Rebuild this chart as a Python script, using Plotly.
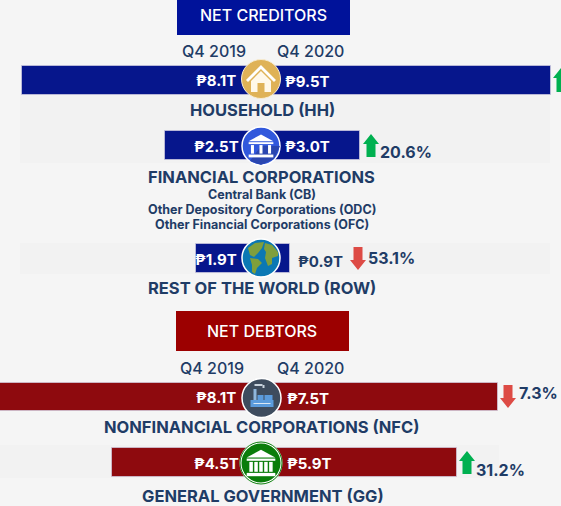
import plotly.graph_objects as go

W, H = 561, 506

# ---- data ----
sectors = ["HH", "FC", "ROW", "NFC", "GG"]
q4_2019_drawn = [7.7, 3.1, 2.1, 8.6, 4.8]     # drawn bar length, trillion pesos (left side)
q4_2020_drawn = [9.35, 3.2, 0.94, 7.65, 6.32]  # drawn bar length, trillion pesos (right side)
q4_2019_labels = ["₱8.1T", "₱2.5T", "₱1.9T", "₱8.1T", "₱4.5T"]
q4_2020_labels = ["₱9.5T", "₱3.0T", "₱0.9T", "₱7.5T", "₱5.9T"]
pct_labels = ["", "20.6%", "53.1%", "7.3%", "31.2%"]
titles = ["HOUSEHOLD (HH)", "FINANCIAL CORPORATIONS", "REST OF THE WORLD (ROW)",
          "NONFINANCIAL CORPORATIONS (NFC)", "GENERAL GOVERNMENT (GG)"]
fc_members = ["Central Bank (CB)", "Other Depository Corporations (ODC)", "Other Financial Corporations (OFC)"]
section_titles = ["NET CREDITORS", "NET DEBTORS"]
period_labels = ["Q4 2019", "Q4 2020"]

# ---- layout constants (pixels) ----
CX = 261
PX_PER_T = 31
FONT = "Inter"
INK = "#1f3c66"
NAVY = "#06168c"
MAROON = "#8e0a0e"
GREEN = "#00b050"
RED = "#dd4b45"
BG = "#f5f5f5"
BAND = "#f2f2f2"
LAND = "#7f9f3c"

row_y = [80.5, 145.5, 258.5, 397, 462.5]
bar_h = [29, 29, 29, 28, 29]
bar_colors = [NAVY, NAVY, NAVY, MAROON, MAROON]

fig = go.Figure()
for vals, sign in ((q4_2019_drawn, -1), (q4_2020_drawn, 1)):
    fig.add_trace(go.Bar(
        orientation="h", base=0,
        x=[sign * v for v in vals], y=row_y, width=bar_h,
        marker=dict(color=bar_colors, line=dict(color="rgba(210,205,225,0.7)", width=1)),
        hoverinfo="skip", showlegend=False))

shapes, ann = [], []


def px(x):
    return x / W


def py(y):
    return 1 - y / H


def rect(x0, y0, x1, y1, color, layer="above"):
    shapes.append(dict(type="rect", xref="paper", yref="paper", x0=px(x0), x1=px(x1), y0=py(y0), y1=py(y1),
                       fillcolor=color, line_width=0, layer=layer))


def circle(cx, cy, r, fill, line=None, lw=0):
    shapes.append(dict(type="circle", xref="paper", yref="paper", x0=px(cx - r), x1=px(cx + r),
                       y0=py(cy - r), y1=py(cy + r), fillcolor=fill,
                       line=dict(color=line or fill, width=lw), layer="above"))


def poly(points, fill):
    d = "M" + " L".join(f"{px(x):.5f},{py(y):.5f}" for x, y in points) + " Z"
    shapes.append(dict(type="path", xref="paper", yref="paper", path=d, fillcolor=fill, line_width=0, layer="above"))


def text(x, y, s, size, color=INK, weight=700):
    ann.append(dict(xref="paper", yref="paper", x=px(x), y=py(y), text=s, showarrow=False,
                    xanchor="center", yanchor="middle",
                    font=dict(family=FONT, size=size, color=color, weight=weight)))


def arrow(cx, top, bottom, up, color):
    hw, sw, head = 8, 4.5, 10
    if up:
        pts = [(cx, top), (cx + hw, top + head), (cx + sw, top + head), (cx + sw, bottom),
               (cx - sw, bottom), (cx - sw, top + head), (cx - hw, top + head)]
    else:
        pts = [(cx, bottom), (cx + hw, bottom - head), (cx + sw, bottom - head), (cx + sw, top),
               (cx - sw, top), (cx - sw, bottom - head), (cx - hw, bottom - head)]
    poly(pts, color)


# background bands
rect(20, 94, 550, 163, BAND, "below")
rect(20, 243, 550, 274, BAND, "below")
rect(0, 445, 499, 478, BAND, "below")

# section headers
rect(177, 0, 350, 35, "#00129a")
rect(176, 311, 349, 351, "#9c0000")
text(263, 15, section_titles[0], 16, "white", 500)
text(262, 331, section_titles[1], 16, "white", 500)

# period labels
text(214, 51, period_labels[0], 16, INK, 500)
text(310, 51, period_labels[1], 16, INK, 500)
text(212, 368, period_labels[0], 16, INK, 500)
text(310.5, 368, period_labels[1], 16, INK, 500)

# value labels
left_x = [216, 216, 216, 216, 216]
right_x = [307, 307, 320, 308, 309]
for i in range(5):
    text(left_x[i], row_y[i] + 0.5, q4_2019_labels[i], 15, "white")
    text(right_x[i], row_y[i] + (3 if i == 2 else 1), q4_2020_labels[i], 15, INK if i == 2 else "white")

# sector titles
title_pos = [(262, 110), (261, 177), (262, 288), (261, 427), (263, 496)]
for (x, y), t in zip(title_pos, titles):
    text(x, y, t, 16.5)
for y, t in zip((194.5, 209.5, 224.5), fc_members):
    text(262, y, t, 12.5)

# change arrows + percentages
arrow(561, 68, 92, True, GREEN)
arrow(371, 134, 157, True, GREEN)
arrow(358, 247, 270, False, RED)
arrow(508, 385, 408, False, RED)
arrow(467, 451, 474, True, GREEN)
for (x, y), t in zip([(0, 0), (406, 152), (391, 258), (538, 393), (500, 470)], pct_labels):
    if t:
        text(x, y, t, 16)

# icons
# house
cx, cy = 261, 79
circle(cx, cy, 19.5, "#dfb257", "#f7ecd2", 1)
poly([(cx, cy - 14), (cx + 15, cy + 1), (cx + 13, cy + 3), (cx, cy - 10), (cx - 13, cy + 3), (cx - 15, cy + 1)], "white")
poly([(cx, cy - 8), (cx + 10, cy + 2), (cx + 10, cy + 13), (cx + 3.5, cy + 13), (cx + 3.5, cy + 4),
      (cx - 3.5, cy + 4), (cx - 3.5, cy + 13), (cx - 10, cy + 13), (cx - 10, cy + 2)], "#fff8ea")


def bank(cx, cy, fill, s=1.0, cols=3):
    poly([(cx, cy - 12 * s), (cx + 13 * s, cy - 5 * s), (cx - 13 * s, cy - 5 * s)], fill)
    rect(cx - 13 * s, cy - 4 * s, cx + 13 * s, cy - 2 * s, fill)
    step = 18 * s / (cols - 1) if cols > 1 else 0
    for k in range(cols):
        x = cx - 9 * s + k * step
        rect(x - 1.6 * s, cy - 1 * s, x + 1.6 * s, cy + 8 * s, fill)
    rect(cx - 13 * s, cy + 9 * s, cx + 13 * s, cy + 12 * s, fill)


# financial corporations
circle(261, 146, 19, "#3158dc", "white", 1.5)
poly([(261, 146), (280, 146), (274, 159), (261, 165), (250, 161)], "#2a46b0")
bank(261, 146, "white", 0.95, 3)

# globe
circle(261, 258, 19, "#0b78b4", "white", 1.5)
poly([(248, 248), (255, 243), (264, 242), (262, 248), (258, 253), (254, 257), (250, 255)], LAND)
poly([(250, 258), (258, 259), (262, 263), (257, 268), (255, 274), (252, 272), (252, 265)], LAND)
poly([(265, 243), (272, 245), (278, 252), (278, 256), (272, 258), (272, 264), (268, 266), (265, 258), (266, 252), (264, 249)], LAND)

# factory
cx, cy = 261.5, 398
circle(cx, cy, 19.5, "#3e4c5e", "white", 1.5)
rect(cx - 8, cy - 9, cx - 5, cy + 2, "#8fb6dc")
rect(cx - 7, cy - 14, cx + 1, cy - 12, "#c9d3dd")
rect(cx + 1, cy - 13, cx + 3, cy - 10, "#c9d3dd")
rect(cx - 4, cy - 3, cx + 2, cy + 2, "#5b9bdc")
rect(cx + 3, cy - 3, cx + 11, cy + 2, "#5b9bdc")
rect(cx - 11, cy + 2, cx + 12, cy + 9, "#5b9bdc")
rect(cx - 8, cy + 5, cx + 9, cy + 6, "#dbe8f5")

# government
circle(261, 463, 20.5, "#0a7d0a", "white", 2)
circle(261, 463, 21, "rgba(0,0,0,0)", "#0a7d0a", 1)
bank(261, 463, "white", 1.1, 5)

fig.update_layout(
    width=W, height=H, autosize=False,
    margin=dict(l=0, r=0, t=0, b=0),
    paper_bgcolor=BG, plot_bgcolor="rgba(0,0,0,0)",
    barmode="overlay", bargap=0,
    xaxis=dict(range=[-CX / PX_PER_T, (W - CX) / PX_PER_T], visible=False, fixedrange=True),
    yaxis=dict(range=[H, 0], visible=False, fixedrange=True),
    shapes=shapes, annotations=ann,
)
fig.write_html("out.html", config=dict(displayModeBar=False),
               post_script="document.body.style.margin='0';document.body.style.background='#f5f5f5';document.documentElement.style.overflow='hidden';")
